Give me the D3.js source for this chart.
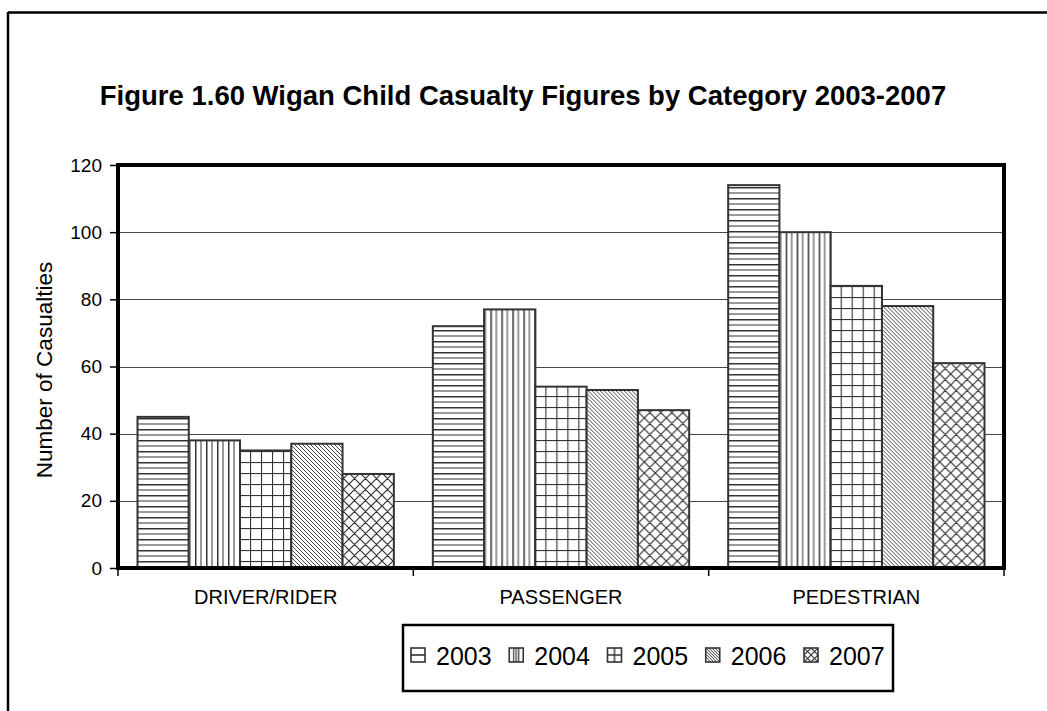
<!DOCTYPE html>
<html>
<head>
<meta charset="utf-8">
<script src="https://cdn.jsdelivr.net/npm/d3@7"></script>
<style>
  html, body { margin: 0; padding: 0; background: #fff; }
  svg { display: block; font-family: "Liberation Sans", Arial, sans-serif; }
</style>
</head>
<body>
<svg id="chart" width="1047" height="711"></svg>
<script>
// ---- data ----
const categories = ["DRIVER/RIDER", "PASSENGER", "PEDESTRIAN"];
const years = ["2003", "2004", "2005", "2006", "2007"];
const values2003 = [45, 72, 114];
const values2004 = [38, 77, 100];
const values2005 = [35, 54, 84];
const values2006 = [37, 53, 78];
const values2007 = [28, 47, 61];
const yTicks = [0, 20, 40, 60, 80, 100, 120];
const titleText = "Figure 1.60 Wigan Child Casualty Figures by Category 2003-2007";
const yLabel = "Number of Casualties";

const seriesValues = [values2003, values2004, values2005, values2006, values2007];

const svg = d3.select("#chart");
const W = 1047, H = 711;
svg.append("rect").attr("width", W).attr("height", H).attr("fill", "#fff");

// ---- patterns ----
const defs = svg.append("defs");
const ink = "#333";
function pat(id, w, h, build) {
  const p = defs.append("pattern").attr("id", id)
    .attr("patternUnits", "userSpaceOnUse").attr("width", w).attr("height", h);
  p.append("rect").attr("width", w).attr("height", h).attr("fill", "#fff");
  build(p);
}
pat("p2003", 11, 11, p => {
  p.append("line").attr("x1", 0).attr("x2", 11).attr("y1", 0.75).attr("y2", 0.75).attr("stroke", ink).attr("stroke-width", 1.5);
  p.append("line").attr("x1", 0).attr("x2", 11).attr("y1", 6).attr("y2", 6).attr("stroke", ink).attr("stroke-width", 1);
});
pat("p2004", 11, 11, p => {
  p.append("line").attr("y1", 0).attr("y2", 11).attr("x1", 0.75).attr("x2", 0.75).attr("stroke", ink).attr("stroke-width", 1.5);
  p.append("line").attr("y1", 0).attr("y2", 11).attr("x1", 6).attr("x2", 6).attr("stroke", ink).attr("stroke-width", 1);
});
pat("p2005", 11, 11, p => {
  p.append("line").attr("x1", 0).attr("x2", 11).attr("y1", 0.5).attr("y2", 0.5).attr("stroke", ink).attr("stroke-width", 1.2);
  p.append("line").attr("y1", 0).attr("y2", 11).attr("x1", 0.5).attr("x2", 0.5).attr("stroke", ink).attr("stroke-width", 1.2);
});
pat("p2006", 4, 4, p => {
  p.append("path").attr("d", "M-1,-1 L5,5 M-1,3 L1,5 M3,-1 L5,1").attr("stroke", ink).attr("stroke-width", 0.9);
});
pat("p2007", 11, 11, p => {
  p.append("path").attr("d", "M0,0 L11,11 M11,0 L0,11 M-1,10 L1,12 M10,-1 L12,1 M-1,1 L1,-1 M10,12 L12,10")
    .attr("stroke", ink).attr("stroke-width", 1.2);
});

// legend swatch patterns (tile = swatch box)
const S = 14;
function lpat(id, d, sw) {
  const p = defs.append("pattern").attr("id", id)
    .attr("patternUnits", "objectBoundingBox").attr("width", 1).attr("height", 1);
  p.append("rect").attr("width", S).attr("height", S).attr("fill", "#fff");
  p.append("path").attr("d", d).attr("stroke", ink).attr("stroke-width", sw).attr("fill", "none");
}
lpat("l2003", `M0,${S/2} L${S},${S/2}`, 1.6);
lpat("l2004", `M4.5,0 L4.5,${S} M7,0 L7,${S} M9.5,0 L9.5,${S}`, 1.2);
lpat("l2005", `M0,${S/2} L${S},${S/2} M${S/2},0 L${S/2},${S}`, 1.4);
lpat("l2006", `M0,0 L${S},${S} M0,3 L${S-3},${S} M0,6 L${S-6},${S} M0,9 L${S-9},${S} M3,0 L${S},${S-3} M6,0 L${S},${S-6} M9,0 L${S},${S-9}`, 1);
lpat("l2007", `M0,0 L${S},${S} M${S},0 L0,${S} M${S/2},0 L${S},${S/2} L${S/2},${S} L0,${S/2} Z`, 1.1);

// ---- scales ----
const plot = { left: 118, right: 1004, top: 165, bottom: 568 };
const x0 = d3.scaleBand().domain(categories).range([plot.left, plot.right]).padding(0);
const groupPad = 19.5;
const x1 = d3.scaleBand().domain(years).range([groupPad, x0.bandwidth() - groupPad]).padding(0);
const y = d3.scaleLinear().domain([0, 120]).range([plot.bottom, plot.top]);

// ---- outer frame ----
svg.append("line").attr("x1", 8).attr("x2", W).attr("y1", 12.5).attr("y2", 12.5).attr("stroke", "#000").attr("stroke-width", 2.5);
svg.append("line").attr("x1", 8).attr("x2", 8).attr("y1", 12).attr("y2", H).attr("stroke", "#000").attr("stroke-width", 2.5);

// ---- title ----
svg.append("text").attr("x", 523).attr("y", 105).attr("text-anchor", "middle")
  .attr("font-size", 27.5).attr("font-weight", "bold").attr("fill", "#000").text(titleText);

// ---- gridlines ----
svg.append("g").selectAll("line").data(yTicks.filter(t => t > 0 && t < 120)).join("line")
  .attr("x1", plot.left).attr("x2", plot.right)
  .attr("y1", d => Math.round(y(d)) + 0.5).attr("y2", d => Math.round(y(d)) + 0.5)
  .attr("stroke", "#444").attr("stroke-width", 1);

// ---- bars ----
const groups = svg.append("g").selectAll("g").data(categories).join("g")
  .attr("transform", d => `translate(${x0(d)},0)`);
groups.selectAll("rect").data((c, ci) => years.map((yr, si) => ({ yr, v: seriesValues[si][ci] })))
  .join("rect")
  .attr("x", d => x1(d.yr))
  .attr("width", x1.bandwidth())
  .attr("y", d => y(d.v))
  .attr("height", d => y(0) - y(d.v))
  .attr("fill", d => `url(#p${d.yr})`)
  .attr("stroke", "#333").attr("stroke-width", 2);

// ---- axes ----
const yAxis = d3.axisLeft(y).tickValues(yTicks).tickSize(6).tickPadding(8).tickFormat(d3.format("d"));
const gy = svg.append("g").attr("transform", `translate(${plot.left - 2},0)`).call(yAxis);
gy.select(".domain").remove();
gy.selectAll(".tick line").attr("stroke", "#000").attr("stroke-width", 1.5);
gy.selectAll(".tick text").attr("font-size", 19).attr("fill", "#000").attr("font-family", "Liberation Sans, Arial, sans-serif");

const xAxis = d3.axisBottom(x0).tickSize(0).tickPadding(22);
const gx = svg.append("g").attr("transform", `translate(0,${plot.bottom})`).call(xAxis);
gx.select(".domain").remove();
gx.selectAll(".tick text").attr("font-size", 20).attr("fill", "#000").attr("font-family", "Liberation Sans, Arial, sans-serif");
// category boundary ticks
const bounds = categories.map(c => x0(c)).concat([x0(categories[categories.length - 1]) + x0.bandwidth()]);
svg.append("g").selectAll("line").data(bounds).join("line")
  .attr("x1", d => d).attr("x2", d => d).attr("y1", plot.bottom).attr("y2", plot.bottom + 8)
  .attr("stroke", "#000").attr("stroke-width", 1.5);

// plot frame (thick)
svg.append("rect").attr("x", plot.left).attr("y", plot.top)
  .attr("width", plot.right - plot.left).attr("height", plot.bottom - plot.top)
  .attr("fill", "none").attr("stroke", "#000").attr("stroke-width", 4);

// ---- y label ----
svg.append("text").attr("transform", `translate(52,370) rotate(-90)`).attr("text-anchor", "middle")
  .attr("font-size", 22.5).attr("fill", "#000").text(yLabel);

// ---- legend ----
const lg = svg.append("g");
lg.append("rect").attr("x", 403).attr("y", 625).attr("width", 490).attr("height", 66)
  .attr("fill", "#fff").attr("stroke", "#000").attr("stroke-width", 2.5);
const legX = d3.scalePoint().domain(years).range([411, 804]);
const items = lg.selectAll("g.item").data(years).join("g").attr("class", "item")
  .attr("transform", d => `translate(${legX(d)},0)`);
items.append("rect").attr("x", 0).attr("y", 648).attr("width", S).attr("height", S)
  .attr("fill", d => `url(#l${d})`).attr("stroke", "#333").attr("stroke-width", 1.6);
items.append("text").attr("x", 25).attr("y", 665).attr("font-size", 25).attr("fill", "#000").text(d => d);
</script>
</body>
</html>
